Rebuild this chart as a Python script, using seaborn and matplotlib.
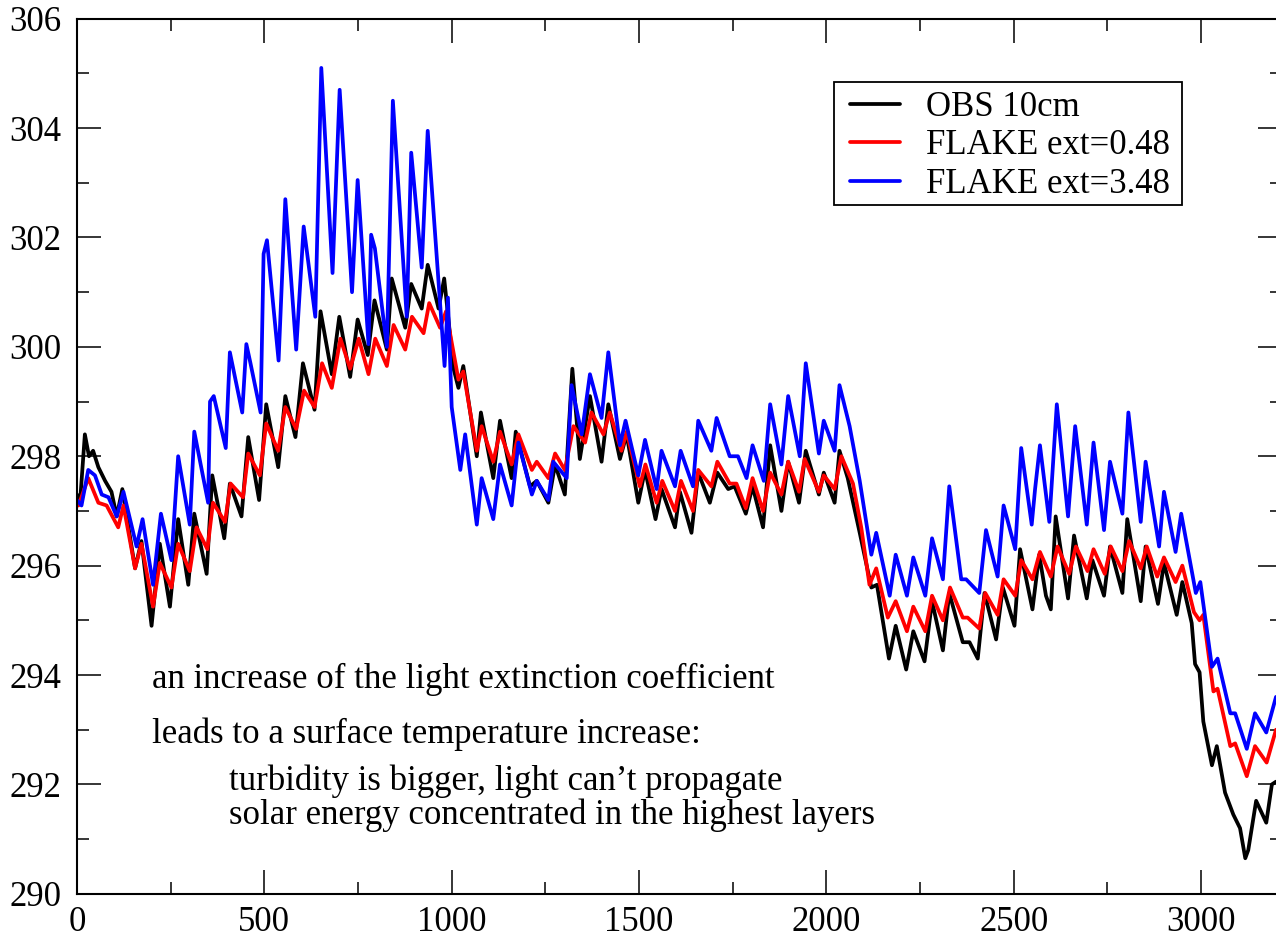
import pandas as pd
import numpy as np
import matplotlib
matplotlib.use("Agg")
import matplotlib.pyplot as plt
import seaborn as sns
from matplotlib.patches import Rectangle

# Surface temperature (K) vs time step
obs_x = [0, 8, 21, 32, 43, 57, 75, 92, 106, 121, 155, 172, 199, 221, 248, 270, 297, 313, 346, 361,
         393, 408, 439, 457, 486, 505, 537, 556, 583, 603, 634, 650, 680, 700, 729, 749, 776, 794, 827, 840,
         876, 892, 920, 936, 965, 980, 1005, 1018, 1031, 1067, 1078, 1111, 1129, 1160, 1171, 1209, 1227, 1258, 1276, 1302,
         1322, 1342, 1369, 1400, 1418, 1449, 1467, 1498, 1516, 1544, 1560, 1596, 1609, 1640, 1658, 1689, 1709, 1738, 1755, 1785,
         1803, 1831, 1850, 1880, 1898, 1927, 1945, 1980, 1993, 2022, 2035, 2057, 2089, 2120, 2135, 2167, 2185, 2213, 2232, 2262,
         2282, 2311, 2328, 2364, 2382, 2404, 2422, 2453, 2471, 2502, 2517, 2550, 2568, 2586, 2599, 2612, 2645, 2661, 2695, 2710,
         2741, 2757, 2790, 2803, 2839, 2852, 2885, 2901, 2935, 2950, 2975, 2984, 2996, 3006, 3029, 3042, 3064, 3086, 3104, 3118,
         3126, 3147, 3174, 3189, 3200]
obs_y = [297.3, 297.15, 298.4, 298.0, 298.1, 297.8, 297.55, 297.35, 296.9, 297.4, 295.95, 296.45, 294.9, 296.4, 295.25, 296.85, 295.65, 296.95, 295.85, 297.65,
         296.5, 297.5, 296.9, 298.35, 297.2, 298.95, 297.8, 299.1, 298.35, 299.7, 298.85, 300.65, 299.5, 300.55, 299.45, 300.5, 299.85, 300.85, 299.95, 301.25,
         300.35, 301.15, 300.7, 301.5, 300.7, 301.25, 299.6, 299.25, 299.65, 298.0, 298.8, 297.6, 298.65, 297.6, 298.45, 297.45, 297.55, 297.15, 297.85, 297.3,
         299.6, 297.95, 299.1, 297.9, 298.95, 297.95, 298.4, 297.15, 297.75, 296.85, 297.4, 296.7, 297.35, 296.6, 297.7, 297.15, 297.7, 297.4, 297.45, 296.95,
         297.45, 296.7, 298.2, 297.0, 297.9, 297.15, 298.1, 297.3, 297.7, 297.15, 298.1, 297.6, 296.6, 295.6, 295.65, 294.3, 294.9, 294.1, 294.8, 294.25,
         295.35, 294.45, 295.5, 294.6, 294.6, 294.3, 295.5, 294.65, 295.6, 294.9, 296.3, 295.2, 296.2, 295.45, 295.2, 296.9, 295.4, 296.55, 295.4, 296.1,
         295.45, 296.35, 295.5, 296.85, 295.35, 296.35, 295.3, 296.05, 295.1, 295.7, 294.95, 294.2, 294.05, 293.15, 292.35, 292.7, 291.85, 291.45, 291.2, 290.65,
         290.8, 291.7, 291.3, 292.0, 292.05]

ext048_x = [0, 4, 30, 57, 79, 110, 124, 155, 172, 203, 221, 252, 270, 301, 319, 348, 363, 395, 410, 443,
            457, 488, 505, 537, 556, 585, 606, 634, 654, 680, 703, 729, 752, 778, 796, 827, 845, 876, 894, 925,
            940, 969, 985, 1018, 1031, 1067, 1080, 1111, 1129, 1160, 1178, 1214, 1227, 1258, 1276, 1302, 1325, 1356, 1373, 1405,
            1422, 1453, 1467, 1502, 1517, 1547, 1562, 1596, 1612, 1644, 1658, 1693, 1709, 1742, 1760, 1785, 1803, 1831, 1850, 1880,
            1898, 1927, 1942, 1980, 1993, 2022, 2040, 2071, 2093, 2115, 2133, 2164, 2185, 2215, 2232, 2264, 2282, 2311, 2330, 2364,
            2377, 2408, 2424, 2457, 2473, 2504, 2520, 2550, 2570, 2599, 2617, 2648, 2666, 2697, 2713, 2743, 2759, 2790, 2808, 2839,
            2855, 2883, 2901, 2932, 2950, 2981, 2996, 3006, 3033, 3044, 3078, 3091, 3122, 3144, 3175, 3200]
ext048_y = [297.1, 297.1, 297.6, 297.15, 297.1, 296.7, 297.1, 295.95, 296.4, 295.25, 296.05, 295.6, 296.4, 295.9, 296.7, 296.3, 297.15, 296.8, 297.5, 297.25,
            298.05, 297.65, 298.6, 298.1, 298.9, 298.5, 299.2, 298.9, 299.7, 299.25, 300.15, 299.6, 300.15, 299.5, 300.15, 299.65, 300.4, 299.95, 300.55, 300.25,
            300.8, 300.35, 300.65, 299.4, 299.55, 298.1, 298.55, 297.9, 298.45, 297.85, 298.4, 297.75, 297.9, 297.6, 298.05, 297.75, 298.55, 298.25, 298.8, 298.4,
            298.8, 298.1, 298.45, 297.45, 297.85, 297.15, 297.55, 297.0, 297.55, 297.0, 297.75, 297.45, 297.9, 297.5, 297.5, 297.05, 297.6, 297.0, 297.7, 297.3,
            297.9, 297.35, 297.95, 297.35, 297.65, 297.4, 298.0, 297.5, 296.7, 295.65, 295.95, 295.05, 295.35, 294.8, 295.25, 294.8, 295.45, 295.0, 295.6, 295.05,
            295.05, 294.85, 295.5, 295.1, 295.75, 295.45, 296.1, 295.75, 296.25, 295.8, 296.35, 295.85, 296.35, 295.9, 296.3, 295.85, 296.35, 295.9, 296.45, 295.95,
            296.35, 295.8, 296.15, 295.7, 296.0, 295.15, 295.0, 295.1, 293.7, 293.75, 292.7, 292.75, 292.15, 292.7, 292.4, 293.0]

ext348_x = [0, 12, 30, 48, 66, 84, 106, 124, 159, 175, 203, 224, 252, 270, 301, 313, 350, 355, 365, 397,
            408, 441, 452, 463, 490, 498, 507, 538, 556, 585, 605, 636, 652, 682, 701, 734, 749, 778, 785, 795,
            827, 843, 880, 892, 920, 936, 981, 990, 1000, 1023, 1036, 1067, 1080, 1111, 1129, 1160, 1178, 1214, 1227, 1258,
            1271, 1307, 1320, 1347, 1369, 1400, 1418, 1449, 1464, 1498, 1516, 1547, 1560, 1596, 1611, 1644, 1658, 1693, 1707, 1742,
            1764, 1787, 1803, 1833, 1850, 1880, 1898, 1929, 1945, 1980, 1993, 2022, 2035, 2062, 2089, 2120, 2133, 2169, 2185, 2215,
            2232, 2264, 2282, 2311, 2328, 2360, 2373, 2408, 2426, 2457, 2473, 2504, 2520, 2548, 2557, 2570, 2595, 2615, 2645, 2664,
            2695, 2713, 2741, 2757, 2790, 2806, 2839, 2852, 2888, 2901, 2932, 2947, 2986, 2998, 3029, 3044, 3078, 3091, 3122, 3144,
            3174, 3200]
ext348_y = [297.2, 297.1, 297.75, 297.65, 297.3, 297.25, 296.9, 297.35, 296.35, 296.85, 295.65, 296.95, 296.1, 298.0, 296.75, 298.45, 297.15, 299.0, 299.1, 298.15,
            299.9, 298.8, 300.05, 299.7, 298.8, 301.7, 301.95, 299.75, 302.7, 299.95, 302.2, 300.55, 305.1, 301.35, 304.7, 301.0, 303.05, 300.05, 302.05, 301.8,
            300.0, 304.5, 300.55, 303.55, 301.45, 303.95, 299.65, 300.9, 298.9, 297.75, 298.4, 296.75, 297.6, 296.85, 297.85, 297.1, 298.25, 297.3, 297.55, 297.2,
            297.9, 297.6, 299.3, 298.4, 299.5, 298.7, 299.9, 298.2, 298.65, 297.65, 298.3, 297.4, 298.1, 297.45, 298.1, 297.45, 298.65, 298.1, 298.7, 298.0,
            298.0, 297.6, 298.2, 297.55, 298.95, 297.85, 299.1, 298.0, 299.7, 298.05, 298.65, 298.1, 299.3, 298.55, 297.55, 296.2, 296.6, 295.45, 296.2, 295.45,
            296.15, 295.45, 296.5, 295.75, 297.45, 295.75, 295.75, 295.5, 296.65, 295.8, 297.1, 296.3, 298.15, 296.75, 297.4, 298.2, 296.8, 298.95, 296.9, 298.55,
            296.75, 298.25, 296.65, 297.9, 296.95, 298.8, 296.8, 297.9, 296.35, 297.35, 296.25, 296.95, 295.5, 295.7, 294.15, 294.3, 293.3, 293.3, 292.65, 293.3,
            292.95, 293.6]

labels = ["OBS 10cm", "FLAKE ext=0.48", "FLAKE ext=3.48"]
colors = ["black", "red", "blue"]

notes = ["an increase of the light extinction coefficient",
         "leads to a surface temperature increase:",
         "turbidity is bigger, light can\u2019t propagate",
         "solar energy concentrated in the highest layers"]

df = pd.concat([
    pd.DataFrame({"step": obs_x, "temp": obs_y, "run": labels[0]}),
    pd.DataFrame({"step": ext048_x, "temp": ext048_y, "run": labels[1]}),
    pd.DataFrame({"step": ext348_x, "temp": ext348_y, "run": labels[2]}),
], ignore_index=True)

sns.set_style("ticks")
plt.rcParams["font.family"] = ["Liberation Serif", "DejaVu Serif"]
for key in ["text.color", "xtick.color", "ytick.color", "axes.labelcolor", "axes.edgecolor"]:
    plt.rcParams[key] = "black"

fig = plt.figure(figsize=(12.76, 9.4), dpi=100)
ax = fig.add_axes([77 / 1276, 1 - 893.8 / 940, 1205 / 1276, 875.1 / 940])

sns.lineplot(data=df, x="step", y="temp", hue="run", hue_order=labels,
             palette=colors, sort=False, estimator=None, linewidth=2.7,
             legend=False, ax=ax)

ax.set_xlim(0, 3216)
ax.set_ylim(290, 306)
ax.set_xticks(np.arange(0, 3001, 500))
ax.set_xticks(np.arange(0, 3201, 250), minor=True)
ax.set_yticks(np.arange(290, 307, 2))
ax.set_yticks(np.arange(290, 307, 1), minor=True)
ax.set_xlabel("")
ax.set_ylabel("")
ax.tick_params(which="both", direction="in", top=True, right=True, width=1.1)
ax.tick_params(which="major", length=17, labelsize=25)
ax.tick_params(axis="y", which="major", pad=11)
ax.tick_params(axis="x", which="major", pad=9)
ax.tick_params(which="minor", length=8.6)
for sp in ax.spines.values():
    sp.set_linewidth(1.5)

# legend box drawn as its own frame, entries placed inside it
ax.add_patch(Rectangle((0.6282, 0.7871), 0.917 - 0.6282, 0.9277 - 0.7871,
                       transform=ax.transAxes, facecolor="white", edgecolor="black",
                       linewidth=1.3, zorder=4))
leg = ax.legend(ax.lines, labels, loc="upper left", bbox_to_anchor=(0.6415, 0.9175),
                borderaxespad=0, borderpad=0, fontsize=25, frameon=False,
                handlelength=1.45, handletextpad=0.75, labelspacing=0.16)
leg.set_zorder(5)

ax.text(200, 293.77, notes[0], fontsize=25, va="baseline")
ax.text(200, 292.75, notes[1], fontsize=25, va="baseline")
ax.text(405, 291.89, notes[2], fontsize=25, va="baseline")
ax.text(405, 291.27, notes[3], fontsize=25, va="baseline")

fig.savefig("out.png", dpi=100)
